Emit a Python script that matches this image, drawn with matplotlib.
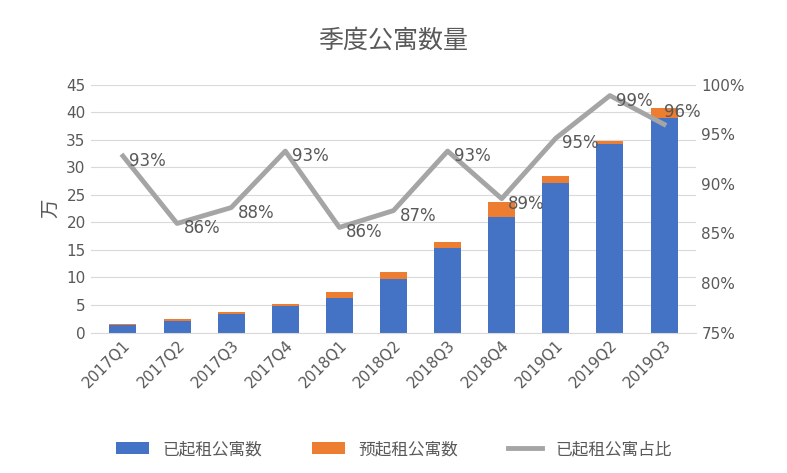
import matplotlib.pyplot as plt
from matplotlib import font_manager
import numpy as np

# find a sans CJK font file and register its name
cjk_name = 'DejaVu Sans'
files = sorted(f for f in font_manager.findSystemFonts()
               if 'CJK' in f and 'Sans' in f)
for f in files:
    try:
        font_manager.fontManager.addfont(f)
        name = font_manager.FontProperties(fname=f).get_name()
        if 'Sans' in name:
            cjk_name = name
            if 'SC' in name:
                break
    except Exception:
        pass
plt.rcParams['font.family'] = ['DejaVu Sans', cjk_name]

quarters = ['2017Q1', '2017Q2', '2017Q3', '2017Q4', '2018Q1', '2018Q2',
            '2018Q3', '2018Q4', '2019Q1', '2019Q2', '2019Q3']
rented = [1.4, 2.1, 3.3, 4.8, 6.2, 9.7, 15.3, 21.0, 27.2, 34.2, 39.0]
reserved = [0.2, 0.3, 0.5, 0.4, 1.1, 1.3, 1.2, 2.7, 1.3, 0.6, 1.7]
ratio = [92.8, 86.0, 87.6, 93.3, 85.6, 87.3, 93.3, 88.5, 94.6, 98.9, 96.0]
ratio_labels = ['93%', '86%', '88%', '93%', '86%', '87%', '93%', '89%', '95%', '99%', '96%']

blue = '#4472C4'
orange = '#ED7D31'
grey = '#A5A5A5'

fig = plt.figure(figsize=(7.87, 4.73), dpi=100)
ax = fig.add_axes([0.115, 0.297, 0.77, 0.524])
x = np.arange(len(quarters))
ax.bar(x, rented, 0.5, color=blue, label='已起租公寓数')
ax.bar(x, reserved, 0.5, bottom=rented, color=orange, label='预起租公寓数')
ax.set_ylim(0, 45)
ax.set_yticks(range(0, 46, 5))
ax.set_xlim(-0.6, len(quarters) - 0.4)
ax.set_xticks(x)
ax.set_xticklabels(quarters, rotation=45, ha='right', rotation_mode='anchor')
ax.set_ylabel('万', fontsize=14, color='#595959', family=cjk_name)
ax.yaxis.grid(True, color='#D9D9D9')
ax.set_axisbelow(True)

ax2 = ax.twinx()
ax2.plot(x, ratio, color=grey, lw=3.5, label='已起租公寓占比')
for xi, v, t in zip(x, ratio, ratio_labels):
    dx = 0.0 if xi == x[-1] else 0.12
    dy = 1.2 if xi == x[-1] else -0.5
    ax2.text(xi + dx, v + dy, t, fontsize=12, color='#595959', va='center')
ax2.set_ylim(75, 100)
ax2.set_yticks(range(75, 101, 5))
ax2.set_yticklabels([f'{v}%' for v in range(75, 101, 5)])

for a in (ax, ax2):
    for s in a.spines.values():
        s.set_visible(False)
    a.tick_params(length=0, labelsize=11, colors='#595959')
ax.spines['bottom'].set_visible(True)
ax.spines['bottom'].set_color('#D9D9D9')

fig.text(0.5, 0.9, '季度公寓数量', ha='center', fontsize=18, color='#595959',
         family=cjk_name)
h1, l1 = ax.get_legend_handles_labels()
h2, l2 = ax2.get_legend_handles_labels()
fig.legend(h1 + h2, l1 + l2, loc='lower center', ncol=3, frameon=False,
           prop={'family': cjk_name, 'size': 12}, bbox_to_anchor=(0.5, 0.0),
           labelcolor='#595959', columnspacing=3)
fig.savefig('out.png')
